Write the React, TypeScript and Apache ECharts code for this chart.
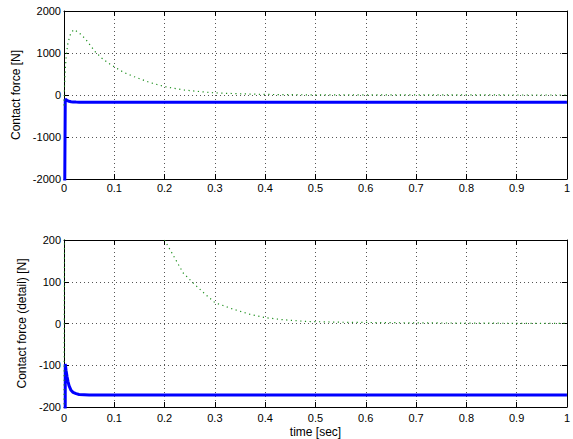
import React, { useEffect, useRef } from "react";
import * as echarts from "echarts";

const xTicks = [0, 0.1, 0.2, 0.3, 0.4, 0.5, 0.6, 0.7, 0.8, 0.9, 1];

const greenTime = [0, 0.001, 0.003, 0.005, 0.008, 0.012, 0.016, 0.02, 0.03, 0.042, 0.05, 0.062, 0.075, 0.088, 0.1, 0.12, 0.14, 0.17, 0.2, 0.237, 0.256, 0.28, 0.3, 0.337, 0.37, 0.4, 0.436, 0.48, 0.55, 0.6, 0.7, 0.8, 0.9, 1];
const greenForce = [-250, 200, 700, 1000, 1250, 1420, 1510, 1557, 1480, 1343, 1220, 1030, 880, 760, 670, 530, 434, 300, 200, 121, 98, 71, 50, 34, 22, 14, 9, 5, 3, 2.5, 1.5, 1, 0.5, 0.3];

const blueTime = [0, 0.0025, 0.004, 0.006, 0.008, 0.01, 0.014, 0.018, 0.024, 0.03, 0.05, 0.2, 0.5, 1];
const blueForce = [-5000, -97, -112, -127, -139, -149, -160, -165, -168, -170, -171, -171, -171, -171];

const topYTicks = { min: -2000, max: 2000, interval: 1000 };
const bottomYTicks = { min: -200, max: 200, interval: 100 };

const FONT = "Liberation Sans";

export default function App() {
  const ref = useRef<HTMLDivElement>(null);
  useEffect(() => {
    const chart = echarts.init(ref.current!, null, { renderer: "svg" });
    const green = greenTime.map((t, i) => [t, greenForce[i]]);
    const blue = blueTime.map((t, i) => [t, blueForce[i]]);
    const label = { color: "#000", fontFamily: FONT, fontSize: 11 };
    const nameStyle = { color: "#000", fontFamily: FONT, fontSize: 12 };
    const splitLine = { show: true, lineStyle: { color: "#555", type: [1, 3], width: 1 } };
    const axisLine = { show: true, onZero: false, lineStyle: { color: "#000", width: 1 } };
    const axisTick = { show: true, inside: true, length: 5, lineStyle: { color: "#000" } };
    const fmt = (v: number) => String(Math.round(v * 10) / 10);
    const mkX = (grid: number, main: boolean) => ({
      type: "value",
      gridIndex: grid,
      min: 0,
      max: 1,
      interval: 0.1,
      position: main ? "bottom" : "top",
      axisLine,
      axisTick,
      axisLabel: main ? { ...label, margin: grid === 0 ? 3 : 5, formatter: fmt } : { show: false },
      splitLine: main ? splitLine : { show: false },
      name: main && grid === 1 ? "time [sec]" : "",
      nameLocation: "middle",
      nameGap: 19,
      nameTextStyle: nameStyle,
    });
    const mkY = (grid: number, main: boolean, t: any, name: string, gap: number) => ({
      type: "value",
      gridIndex: grid,
      min: t.min,
      max: t.max,
      interval: t.interval,
      position: main ? "left" : "right",
      axisLine,
      axisTick,
      axisLabel: main ? { ...label, margin: 3, formatter: fmt } : { show: false },
      splitLine: main ? splitLine : { show: false },
      name: main ? name : "",
      nameLocation: "middle",
      nameGap: gap,
      nameTextStyle: nameStyle,
    });
    chart.setOption({
      animation: false,
      backgroundColor: "#fff",
      grid: [
        { left: 64, top: 11, width: 503, height: 168 },
        { left: 64, top: 240, width: 503, height: 168 },
      ],
      xAxis: [mkX(0, true), mkX(0, false), mkX(1, true), mkX(1, false)],
      yAxis: [
        mkY(0, true, topYTicks, "Contact force [N]", 37),
        mkY(0, false, topYTicks, "", 0),
        mkY(1, true, bottomYTicks, "Contact force (detail) [N]", 31),
        mkY(1, false, bottomYTicks, "", 0),
      ],
      series: [
        { type: "line", xAxisIndex: 0, yAxisIndex: 0, data: blue, showSymbol: false, clip: true, lineStyle: { color: "#0000ff", width: 3 } },
        { type: "line", xAxisIndex: 0, yAxisIndex: 0, data: green, showSymbol: false, clip: true, lineStyle: { color: "#1f901f", width: 1.2, type: [1.2, 3.5] } },
        { type: "line", xAxisIndex: 2, yAxisIndex: 2, data: blue, showSymbol: false, clip: true, lineStyle: { color: "#0000ff", width: 3 } },
        { type: "line", xAxisIndex: 2, yAxisIndex: 2, data: green, showSymbol: false, clip: true, lineStyle: { color: "#1f901f", width: 1.2, type: [1.2, 3.5] } },
      ],
    });
    return () => chart.dispose();
  }, []);
  return <div ref={ref} style={{ position: "absolute", left: 0, top: 0, width: 573, height: 439 }} />;
}
